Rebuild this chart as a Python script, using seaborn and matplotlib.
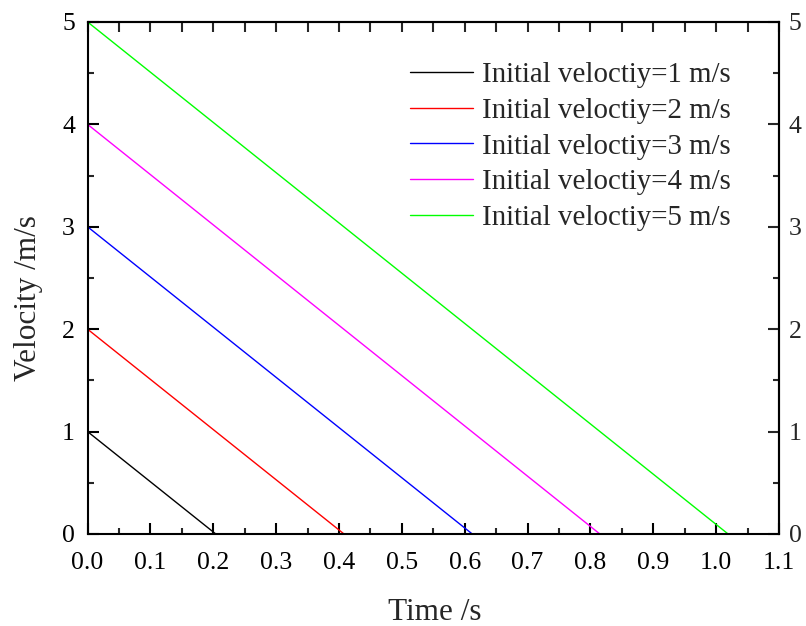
import matplotlib
matplotlib.use("Agg")
import matplotlib.pyplot as plt
from matplotlib.ticker import MultipleLocator, NullFormatter, FormatStrFormatter
import pandas as pd
import seaborn as sns

# Initial velocities (m/s) and the time at which each one comes to rest (s)
initial_velocities = [1, 2, 3, 4, 5]
stop_times = [0.204, 0.408, 0.612, 0.815, 1.019]
series_labels = [f"Initial veloctiy={v} m/s" for v in initial_velocities]
line_colors = ["#000000", "#FF0000", "#0000FF", "#FF00FF", "#00FF00"]

rows = []
for lab, v0, ts in zip(series_labels, initial_velocities, stop_times):
    rows.append({"Time": 0.0, "Velocity": v0, "series": lab})
    rows.append({"Time": ts, "Velocity": 0.0, "series": lab})
df = pd.DataFrame(rows)

sns.set_theme(style="ticks")
plt.rcParams["font.family"] = ["Liberation Serif", "DejaVu Serif"]

fig = plt.figure(figsize=(8.06, 6.26), dpi=100)
ax = fig.add_axes([0.1086, 0.147, 0.8579, 0.818])

sns.lineplot(data=df, x="Time", y="Velocity", hue="series",
             palette=dict(zip(series_labels, line_colors)),
             hue_order=series_labels, linewidth=1.0, ax=ax, legend=True,
             estimator=None, sort=False)

ax.set_xlim(0, 1.1)
ax.set_ylim(0, 5)
ax.xaxis.set_major_locator(MultipleLocator(0.1))
ax.xaxis.set_minor_locator(MultipleLocator(0.05))
ax.yaxis.set_major_locator(MultipleLocator(1))
ax.yaxis.set_minor_locator(MultipleLocator(0.5))
ax.xaxis.set_major_formatter(FormatStrFormatter("%.1f"))
ax.yaxis.set_major_formatter(FormatStrFormatter("%d"))

for s in ax.spines.values():
    s.set_linewidth(1.5)
    s.set_color("black")
    s.set_visible(True)

ax.tick_params(which="major", direction="in", length=8, width=1.5,
               labelsize=18.5, pad=9, colors="black",
               bottom=True, left=True, top=False, right=False)
ax.tick_params(which="minor", direction="in", length=4.5, width=1.5,
               bottom=True, left=True, top=False, right=False)
ax.tick_params(axis="x", which="major", pad=13)

# Top edge: uniform ticks every 0.05, no labels
top = ax.secondary_xaxis("top")
top.xaxis.set_major_locator(MultipleLocator(0.05))
top.xaxis.set_major_formatter(NullFormatter())
top.tick_params(direction="in", length=7, width=1.5)
top.spines["top"].set_linewidth(1.5)

# Right edge: mirrored scale with labels
right = ax.secondary_yaxis("right")
right.yaxis.set_major_locator(MultipleLocator(1))
right.yaxis.set_minor_locator(MultipleLocator(0.5))
right.yaxis.set_major_formatter(FormatStrFormatter("%d"))
right.tick_params(which="major", direction="in", length=8, width=1.5,
                  labelsize=18.5, pad=7)
right.tick_params(which="minor", direction="in", length=4.5, width=1.5)
right.spines["right"].set_linewidth(1.5)

ax.set_xlabel("Time /s", fontsize=22.5)
ax.set_ylabel("Velocity /m/s", fontsize=22.5)
ax.xaxis.set_label_coords(0.5025, -0.125)
ax.yaxis.set_label_coords(-0.0644, 0.461)

leg = ax.legend(loc="upper left", bbox_to_anchor=(0.466, 0.922),
                frameon=False, fontsize=20.8, handlelength=2.18,
                handletextpad=0.31, labelspacing=0.33, borderaxespad=0,
                borderpad=0)
for line in leg.get_lines():
    line.set_linewidth(1.0)

fig.savefig("out.png", dpi=100)
